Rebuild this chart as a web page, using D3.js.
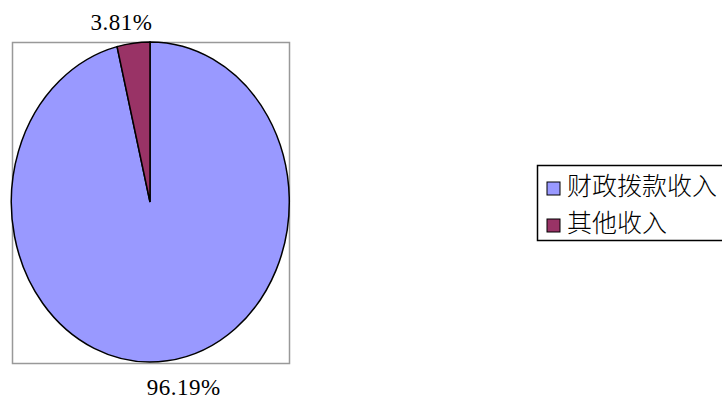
<!DOCTYPE html>
<html>
<head>
<meta charset="utf-8">
<script src="https://cdn.jsdelivr.net/npm/d3@7"></script>
<style>
  body { margin: 0; background: #fff; }
  svg { display: block; }
</style>
</head>
<body>
<script>
const categories = ["财政拨款收入", "其他收入"];
const values = [96.19, 3.81];
const labels = ["96.19%", "3.81%"];
const colors = ["#9999FF", "#993366"];

const w = 722, h = 401;

const svg = d3.select("body").append("svg")
    .attr("width", w)
    .attr("height", h);

// plot area frame
svg.append("rect")
    .attr("x", 12.5).attr("y", 42.5)
    .attr("width", 277).attr("height", 321)
    .attr("fill", "none")
    .attr("stroke", "#999")
    .attr("stroke-width", 1.5);

const cx = 150, cy = 202, rx = 139, ry = 160;

// slices start at 12 o'clock; the small one sits just left of it
const small = 2 * Math.PI * values[1] / d3.sum(values);
const pie = d3.pie().sort(null).value(d => d)
    .startAngle(-small).endAngle(2 * Math.PI - small);
const pieData = pie(values.slice().reverse()).reverse();

const arc = d3.arc().innerRadius(0).outerRadius(1);

const g = svg.append("g")
    .attr("transform", "translate(" + cx + "," + cy + ") scale(" + rx + "," + ry + ")");

g.selectAll("path")
    .data(pieData)
    .enter()
    .append("path")
    .attr("d", arc)
    .attr("fill", (d, i) => colors[i])
    .attr("stroke", "#000")
    .attr("stroke-width", 1.5)
    .attr("vector-effect", "non-scaling-stroke");

// data labels
const labelOffset = [[17, 34], [-12, -13]];
svg.selectAll(".pct")
    .data(pieData)
    .enter()
    .append("text")
    .attr("class", "pct")
    .attr("x", (d, i) => {
        const a = (d.startAngle + d.endAngle) / 2;
        return cx + rx * Math.sin(a) + labelOffset[i][0];
    })
    .attr("y", (d, i) => {
        const a = (d.startAngle + d.endAngle) / 2;
        return cy - ry * Math.cos(a) + labelOffset[i][1];
    })
    .attr("text-anchor", "middle")
    .style("font-family", "'Liberation Serif', serif")
    .style("font-size", "23px")
    .style("letter-spacing", "0.5px")
    .text((d, i) => labels[i]);

// legend
const lg = svg.append("g").attr("transform", "translate(537,165)");
lg.append("rect")
    .attr("x", 0.5).attr("y", 0.5)
    .attr("width", 200).attr("height", 75)
    .attr("fill", "#fff")
    .attr("stroke", "#000")
    .attr("stroke-width", 1.5);

const items = lg.selectAll(".item")
    .data(categories)
    .enter()
    .append("g")
    .attr("class", "item")
    .attr("transform", (d, i) => "translate(10," + (17 + i * 37) + ")");

items.append("rect")
    .attr("width", 13).attr("height", 13)
    .attr("fill", (d, i) => colors[i])
    .attr("stroke", "#000")
    .attr("stroke-width", 1);

items.append("text")
    .attr("x", 20)
    .attr("y", 13)
    .style("font-family", "'Noto Sans CJK SC', sans-serif")
    .style("font-size", "25px")
    .style("font-weight", "300")
    .text(d => d);
</script>
</body>
</html>
